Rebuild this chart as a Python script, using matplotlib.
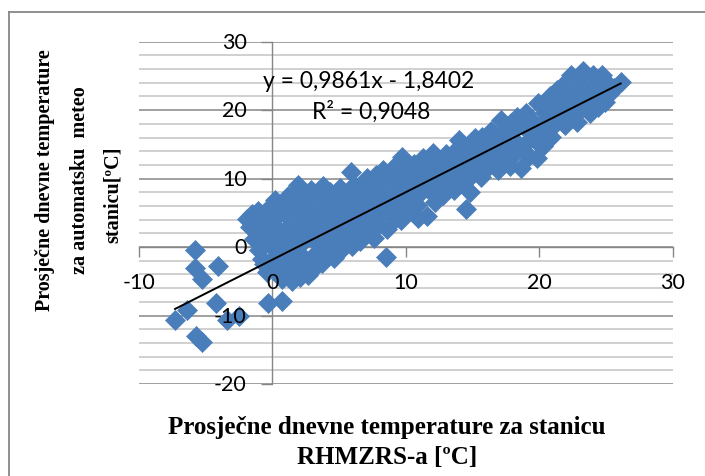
import matplotlib
matplotlib.use("Agg")
import matplotlib.pyplot as plt
from matplotlib.lines import Line2D
from matplotlib.ticker import MultipleLocator
import numpy as np

# Daily mean temperature: RHMZRS station (x) vs automatic station (y)
x_rhmzrs = [
    -7.3, -6.4, -5.8, -5.8, -5.3, -4.1, -4.2, -5.7, -5.3, -3.4, -2.5, -0.3, 0.7, -0.6,
    1.9, 5.9, 8.5, 14.5,
    -1.9, -1.7, -1.5, -1.4, -1.2, -1.1, -1.0, -0.9, -0.8, -0.7,
    -0.4, -0.3, -0.2, -0.1, 0.0, 0.1, 0.2, 0.3, 0.4, 0.5, -0.3, 0.2,
    0.6, 0.7, 0.8, 0.9, 1.0, 1.1, 1.2, 1.3, 1.4, 1.5, 0.9, 1.2,
    1.6, 1.7, 1.8, 1.9, 2.0, 2.1, 2.2, 2.3, 2.4, 2.5, 1.8, 2.2,
    2.6, 2.7, 2.8, 2.9, 3.0, 3.1, 3.2, 3.3, 3.4, 3.5, 2.8, 3.2,
    3.6, 3.7, 3.8, 3.9, 4.0, 4.1, 4.2, 4.3, 4.4, 4.5, 3.9,
    4.6, 4.7, 4.8, 4.9, 5.0, 5.1, 5.2, 5.3, 5.4, 5.5,
    5.6, 5.7, 5.8, 6.0, 6.1, 6.2, 6.3, 6.4, 6.5,
    6.6, 6.7, 6.8, 7.0, 7.1, 7.2, 7.4, 7.5,
    7.6, 7.7, 7.8, 7.9, 8.0, 8.1, 8.3, 8.4,
    8.6, 8.7, 8.9, 9.0, 9.1, 9.2, 9.4, 9.5,
    9.6, 9.7, 9.8, 10.0, 10.1, 10.2, 10.3, 10.5,
    10.6, 10.8, 10.9, 11.0, 11.2, 11.3, 11.5,
    11.6, 11.7, 11.9, 12.0, 12.2, 12.3, 12.5,
    12.6, 12.8, 13.0, 13.1, 13.3, 13.4,
    13.6, 13.7, 13.9, 14.0, 14.1, 14.3, 14.4,
    14.6, 14.8, 14.9, 15.0, 15.2, 15.4,
    15.6, 15.7, 15.9, 16.1, 16.2, 16.4,
    16.6, 16.8, 16.9, 17.1, 17.2, 17.4,
    17.6, 17.8, 17.9, 18.1, 18.3, 18.4,
    18.6, 18.7, 18.9, 19.0, 19.2, 19.4,
    19.6, 19.8, 19.9, 20.1, 20.3, 20.4,
    20.6, 20.8, 20.9, 21.1, 21.3, 21.4,
    21.6, 21.7, 21.9, 22.1, 22.2, 22.4,
    22.6, 22.8, 22.9, 23.1, 23.3, 23.4,
    23.6, 23.8, 24.0, 24.1, 24.3, 24.5,
    24.7, 24.9, 25.1, 25.3, 25.6, 26.1,
    5.3, 6.9, 7.3, 8.2, 9.3, 9.9, 10.4, 11.1, 11.8, 12.4, 12.9, 13.2,
    14.2, 14.7, 15.3, 15.8, 16.3, 16.7, 17.3, 17.7, 18.2, 18.8, 19.3, 19.7,
    20.2, 20.7, 21.2, 21.8, 22.3, 22.7, 23.2, 23.9, 24.4,
    0.4, 1.6, 2.4, 3.4, 4.1, 2.0, 1.0, -0.5,
]
y_automatska = [
    -10.6, -9.2, -0.4, -3.0, -4.7, -2.7, -8.2, -13.0, -13.9, -10.7, -10.0, -8.1, -7.9, -2.5,
    9.0, 10.9, -1.5, 5.6,
    4.1, 2.9, 4.8, 1.2, 3.6, 5.3, -0.4, 2.2, -1.7, 4.4,
    -3.6, 0.6, 5.8, 2.8, -1.9, 4.1, 6.9, -0.6, 1.7, -3.9, 3.5, 5.2,
    2.3, -4.6, 6.1, -1.2, 4.7, -2.9, 7.4, 0.4, 3.3, -4.9, 5.6, 1.4,
    7.8, -3.3, 2.6, -0.7, 5.4, -4.4, 4.0, 8.0, 0.9, -2.1, 6.6, 3.0,
    6.2, -4.1, 3.6, 8.4, -1.4, 1.9, 5.0, -2.7, 7.4, 0.3, 4.4, 2.8,
    5.3, -2.3, 8.9, 2.1, 6.7, -0.8, 3.8, 8.1, 0.8, 5.8, 4.5,
    -1.6, 3.1, 7.6, 1.2, 4.6, 8.6, 6.1, -0.2, 2.4, 5.1,
    1.6, 7.3, 4.2, 0.1, 9.1, 5.8, 2.9, 7.7, 4.6,
    0.9, 8.6, 5.4, 2.6, 10.1, 6.7, 4.0, 8.2,
    1.3, 6.1, 10.6, 3.2, 8.9, 4.7, 11.3, 7.4,
    2.7, 9.6, 5.6, 11.6, 7.2, 4.1, 8.6, 10.3,
    3.9, 13.1, 7.1, 10.1, 5.4, 11.7, 8.7, 9.3,
    12.1, 6.1, 4.3, 10.6, 8.2, 13.0, 9.4,
    4.6, 11.1, 8.1, 13.8, 6.6, 9.6, 12.5,
    10.6, 7.6, 13.6, 9.1, 11.3, 12.1,
    8.3, 14.1, 11.1, 15.6, 9.6, 12.6, 13.2,
    9.8, 8.0, 14.6, 11.6, 15.9, 13.1,
    10.3, 16.1, 13.0, 14.5, 11.8, 17.0,
    12.6, 15.6, 11.3, 18.6, 14.1, 17.0,
    16.5, 11.9, 18.1, 13.6, 19.0, 15.1,
    11.6, 17.9, 15.0, 19.6, 13.3, 16.6,
    18.1, 13.0, 21.0, 16.5, 14.8, 19.6,
    17.6, 22.1, 16.1, 20.6, 23.0, 19.1,
    19.1, 23.6, 17.9, 22.1, 20.6, 25.2,
    21.6, 18.3, 24.6, 20.1, 25.7, 23.1,
    22.6, 19.6, 25.1, 21.1, 24.1, 22.8,
    25.2, 21.2, 23.9, 22.5, 23.2, 24.1,
    3.8, 3.3, 5.2, 6.8, 6.5, 8.0, 7.0, 11.5, 10.2, 8.8, 11.8, 10.0,
    10.6, 12.3, 10.9, 14.6, 13.2, 16.4, 12.8, 14.6, 17.2, 14.0, 17.4, 15.6,
    18.0, 19.5, 18.0, 21.0, 19.4, 23.0, 21.8, 23.4, 20.5,
    -2.4, -1.9, -3.2, 3.6, 1.6, 1.8, 0.8, 1.6,
]

# Linear trendline coefficients as printed on the chart
slope = 0.9861
intercept = -1.8402
r_squared = 0.9048

x_ticks = [-10, 0, 10, 20, 30]
y_ticks = [-20, -10, 0, 10, 20, 30]

x_title = ["Prosječne dnevne temperature za stanicu", "RHMZRS-a [ºC]"]
y_title = ["Prosječne dnevne temperature", "za automatsku  meteo", "stanicu[ºC]"]

W, H = 705, 477
fig = plt.figure(figsize=(W / 100, H / 100), dpi=100)
fig.patch.set_facecolor("white")

ax_left, ax_right, ax_top, ax_bottom = 139.0, 672.7, 42.7, 385.0
ax = fig.add_axes([ax_left / W, 1 - ax_bottom / H,
                   (ax_right - ax_left) / W, (ax_bottom - ax_top) / H])
ax.set_xlim(-10, 30)
ax.set_ylim(-20, 30)
ax.set_facecolor("none")

axis_gray = "#868686"
for side in ("top", "right"):
    ax.spines[side].set_visible(False)
ax.spines["left"].set_position(("data", 0))
ax.spines["bottom"].set_position(("data", 0))
for side in ("left", "bottom"):
    ax.spines[side].set_color(axis_gray)
    ax.spines[side].set_linewidth(1.0)
    ax.spines[side].set_zorder(1.2)

ax.set_xticks(x_ticks)
ax.set_yticks(y_ticks)
ax.yaxis.set_minor_locator(MultipleLocator(2))
ax.tick_params(axis="both", which="major", direction="out", color=axis_gray,
               width=1.0, labelbottom=False, labelleft=False)
ax.tick_params(axis="x", which="major", length=7)
ax.tick_params(axis="y", which="major", length=8)
ax.tick_params(axis="y", which="minor", length=0)
ax.set_axisbelow(True)
ax.yaxis.grid(True, which="minor", color="#C4C4C4", linewidth=1.1)
ax.yaxis.grid(True, which="major", color=axis_gray, linewidth=1.1)

ax.plot(x_rhmzrs, y_automatska, linestyle="none", marker="D", markersize=10.4,
        markerfacecolor="#4A7EBB", markeredgecolor="#4A7EBB", markeredgewidth=0.5,
        zorder=3)

xt = np.array([min(x_rhmzrs), max(x_rhmzrs)])
ax.plot(xt, slope * xt + intercept, color="black", linewidth=1.4, zorder=4)

label_font = dict(family="Lato", color="black")
for v in x_ticks:
    ax.annotate(f"{v}", xy=(v, 0), xytext=(0, -25.5), textcoords="offset points",
                ha="center", va="center", annotation_clip=False, zorder=5,
                fontsize=15.5, **label_font)
for v in y_ticks:
    ax.annotate(f"{v}", xy=(0, v), xytext=(-18.5, 0), textcoords="offset points",
                ha="right", va="center", annotation_clip=False, zorder=5,
                fontsize=15.5, **label_font)

eq = f"y = {slope:.4f}x - {abs(intercept):.4f}".replace(".", ",")
r2 = f"R² = {r_squared:.4f}".replace(".", ",")
ax.text(-0.71, 24.3, eq, ha="left", va="center", zorder=5, fontsize=16.5, **label_font)
ax.text(2.94, 19.9, r2, ha="left", va="center", zorder=5, fontsize=16.5, **label_font)

title_font = dict(family="Liberation Serif", fontweight="bold", color="black")
fig.text(387 / W, 1 - 428 / H, x_title[0], ha="center", va="center", fontsize=18, **title_font)
fig.text(387 / W, 1 - 458 / H, x_title[1], ha="center", va="center", fontsize=18, **title_font)
for xp, yp, line in zip([45, 80, 113], [180, 180, 195], y_title):
    fig.text(xp / W, 1 - yp / H, line, ha="center", va="center", rotation=90,
             fontsize=14.5, **title_font)

# Chart-area border
border = "#878787"
fig.add_artist(Line2D([9 / W, 9 / W], [0, 1 - 13 / H], transform=fig.transFigure,
                      color=border, linewidth=1.3))
fig.add_artist(Line2D([9 / W, 1], [1 - 13 / H, 1 - 13 / H], transform=fig.transFigure,
                      color=border, linewidth=1.3))

fig.savefig("out.png", dpi=100)
